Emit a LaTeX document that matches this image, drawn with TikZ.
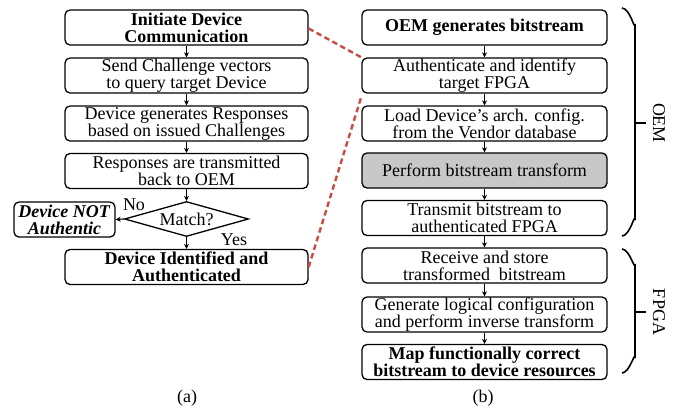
\documentclass[tikz,border=0pt]{standalone}
\usepackage{fontspec}
\setmainfont{Liberation Serif}
\usetikzlibrary{arrows.meta,shapes.geometric}
\definecolor{dashred}{RGB}{200,75,65}
\definecolor{boxgray}{RGB}{200,200,200}
\tikzset{
  flowbox/.style={draw, line width=1.3pt, rounded corners=5pt, minimum height=35pt, inner sep=0pt, align=center, font=\fontsize{18}{17}\selectfont},
  leftbox/.style={flowbox, minimum width=243pt},
  rightbox/.style={flowbox, minimum width=245pt},
  flowarrow/.style={line width=1.1pt, -{Stealth[length=5pt,width=5pt]}},
  linkline/.style={dashred, line width=2.4pt, dash pattern=on 5.5pt off 3.5pt},
  bracepath/.style={line width=1.6pt},
  plainlabel/.style={font=\fontsize{18}{17}\selectfont, inner sep=0pt}
}
\begin{document}
\begin{tikzpicture}[x=1pt,y=-1pt]
\useasboundingbox (0,0) rectangle (684,415);
% left column (a)
\node[leftbox] (a1) at (186.5,27.5) {\textbf{Initiate Device}\\\textbf{Communication}};
\node[leftbox] (a2) at (186.5,75.5) {Send Challenge vectors\\to query target Device};
\node[leftbox] (a3) at (186.5,123.5) {Device generates Responses\\based on issued Challenges};
\node[leftbox] (a4) at (186.5,171) {Responses are transmitted\\back to OEM};
\node[diamond, draw, line width=1.3pt, aspect=3.6, minimum width=124pt, minimum height=35pt, inner sep=0pt, font=\fontsize{18}{17}\selectfont] (dm) at (186.5,219) {Match?};
\node[flowbox, minimum width=101pt] (na) at (64.5,219.5) {\textbf{\itshape Device NOT}\\\textbf{\itshape Authentic}};
\node[leftbox] (a5) at (186.5,267) {\textbf{Device Identified and}\\\textbf{Authenticated}};
\node[plainlabel] (no) at (134,205) {No};
\node[plainlabel] (yes) at (234,240) {Yes};
\node[plainlabel] (capa) at (187,398) {(a)};
\draw[flowarrow] (a1) -- (a2);
\draw[flowarrow] (a2) -- (a3);
\draw[flowarrow] (a3) -- (a4);
\draw[flowarrow] (a4.south) -- (dm.north);
\draw[flowarrow] (dm.west) -- (na.east);
\draw[flowarrow] (dm.south) -- (a5.north);
% right column (b)
\node[rightbox] (b1) at (484.5,27.5) {\textbf{OEM generates bitstream}};
\node[rightbox] (b2) at (484.5,75.5) {Authenticate and identify\\target FPGA};
\node[rightbox] (b3) at (484.5,123.5) {Load Device's arch. config.\\from the Vendor database};
\node[rightbox, fill=boxgray] (b4) at (484.5,170.5) {Perform bitstream transform};
\node[rightbox] (b5) at (484.5,218) {Transmit bitstream to\\authenticated FPGA};
\node[rightbox] (b6) at (484.5,265.5) {Receive and store\\transformed\ \ bitstream};
\node[rightbox] (b7) at (484.5,314.5) {Generate logical configuration\\and perform inverse transform};
\node[rightbox] (b8) at (484.5,362) {\textbf{Map functionally correct}\\\textbf{bitstream to device resources}};
\node[plainlabel] (capb) at (483,398) {(b)};
\draw[flowarrow] (b1) -- (b2);
\draw[flowarrow] (b2) -- (b3);
\draw[flowarrow] (b3) -- (b4);
\draw[flowarrow] (b4) -- (b5);
\draw[flowarrow] (b5) -- (b6);
\draw[flowarrow] (b6) -- (b7);
\draw[flowarrow] (b7) -- (b8);
% braces
\draw[bracepath] (622,8) to[out=0,in=-90] (635,24) -- (635,220) to[out=90,in=0] (622,236);
\draw[bracepath] (635,123) -- (646,123);
\node[plainlabel, rotate=-90] (oem) at (659,123) {OEM};
\draw[bracepath] (622,249) to[out=0,in=-90] (635,264) -- (635,358) to[out=90,in=0] (622,373);
\draw[bracepath] (635,312) -- (646,312);
\node[plainlabel, rotate=-90] (fpga) at (659,312) {FPGA};
% dashed links
\draw[linkline] ([yshift=-1pt]a1.east) -- (b2.north west);
\draw[linkline] (a5.east) -- ([yshift=-3pt]b2.south west);
\end{tikzpicture}
\end{document}
